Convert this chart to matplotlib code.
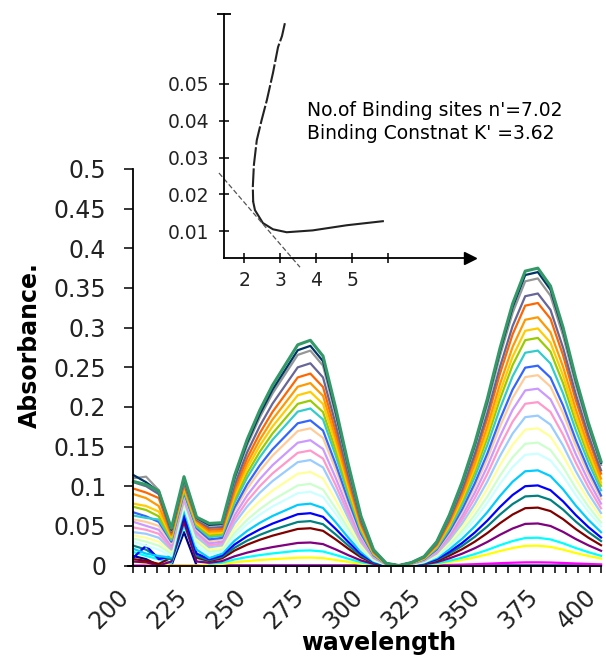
import numpy as np
import matplotlib
matplotlib.use("Agg")
import matplotlib.pyplot as plt
from matplotlib.ticker import MultipleLocator

# wavelengths of the recorded points (nm)
wavelength = [200.0, 205.4, 210.8, 216.2, 221.6, 227.0, 232.4, 237.8, 243.2, 248.6,
              254.0, 259.4, 264.8, 270.2, 275.6, 281.0, 286.4, 291.8, 297.2, 302.6,
              308.0, 313.4, 318.8, 324.2, 329.6, 335.0, 340.4, 345.8, 351.2, 356.6,
              362.0, 367.4, 372.8, 378.2, 383.6, 389.0, 394.4, 399.8]

# band profiles (normalised to 1 at the maximum)
band_275 = [0, 0, 0, 0, 0, 0, 0.12, 0.19, 0.40, 0.56,
            0.69, 0.80, 0.89, 0.98, 1.0, 0.93, 0.70, 0.45, 0.22, 0.07,
            0.01, 0, 0, 0, 0, 0, 0, 0, 0, 0,
            0, 0, 0, 0, 0, 0, 0, 0]
band_375 = [0, 0, 0, 0, 0, 0, 0, 0, 0, 0,
            0, 0, 0, 0, 0, 0, 0, 0, 0, 0,
            0, 0, 0.01, 0.03, 0.08, 0.17, 0.28, 0.41, 0.56, 0.73,
            0.88, 0.99, 1.0, 0.94, 0.80, 0.63, 0.48, 0.35]

# series colours (excel order) and peak heights
colors = ["#000080", "#FF00FF", "#FFFF00", "#00FFFF", "#800080", "#800000", "#008080",
          "#0000FF", "#00CCFF", "#CCFFFF", "#CCFFCC", "#FFFF99", "#99CCFF", "#FF99CC",
          "#CC99FF", "#FFCC99", "#3366FF", "#33CCCC", "#99CC00", "#FFCC00", "#FF9900",
          "#FF6600", "#666699", "#969696", "#003366", "#339966"]
peak_275 = [0.0, 0.0, 0.010, 0.019, 0.029, 0.047, 0.056, 0.066, 0.078, 0.093, 0.103,
            0.118, 0.133, 0.145, 0.158, 0.173, 0.183, 0.198, 0.208, 0.219, 0.230,
            0.242, 0.255, 0.271, 0.277, 0.284]
peak_375 = [0.0, 0.004, 0.025, 0.035, 0.053, 0.073, 0.088, 0.101, 0.120, 0.141, 0.155,
            0.173, 0.189, 0.206, 0.223, 0.240, 0.252, 0.271, 0.287, 0.299, 0.313,
            0.331, 0.343, 0.362, 0.370, 0.375]
# short wavelength part (200 - 232 nm), one row per series
short_wave = [
    [0.012, 0.008, 0.0, 0.0, 0.042, 0.0, 0.0],
    [0.0, 0.0, 0.0, 0.0, 0.0, 0.0, 0.0],
    [0.005, 0.003, 0.002, 0.0, 0.0, 0.0, 0.0],
    [0.017, 0.012, 0.008, 0.003, 0.050, 0.010, 0.0],
    [0.005, 0.004, 0.0, 0.005, 0.055, 0.005, 0.0],
    [0.008, 0.006, 0.002, 0.010, 0.060, 0.010, 0.0],
    [0.025, 0.020, 0.010, 0.008, 0.065, 0.012, 0.0],
    [0.010, 0.025, 0.008, 0.012, 0.063, 0.015, 0.0],
    [0.021, 0.015, 0.012, 0.010, 0.070, 0.020, 0.0],
    [0.030, 0.025, 0.020, 0.012, 0.075, 0.025, 0.003],
    [0.034, 0.030, 0.025, 0.015, 0.078, 0.030, 0.005],
    [0.038, 0.035, 0.030, 0.018, 0.080, 0.033, 0.006],
    [0.042, 0.040, 0.035, 0.020, 0.082, 0.036, 0.007],
    [0.048, 0.045, 0.040, 0.022, 0.085, 0.040, 0.008],
    [0.055, 0.050, 0.045, 0.025, 0.088, 0.042, 0.009],
    [0.058, 0.055, 0.050, 0.028, 0.090, 0.045, 0.010],
    [0.067, 0.062, 0.055, 0.030, 0.092, 0.047, 0.011],
    [0.063, 0.060, 0.058, 0.032, 0.094, 0.049, 0.012],
    [0.074, 0.070, 0.062, 0.034, 0.096, 0.051, 0.013],
    [0.078, 0.075, 0.068, 0.036, 0.098, 0.053, 0.014],
    [0.090, 0.085, 0.075, 0.038, 0.100, 0.055, 0.015],
    [0.097, 0.092, 0.085, 0.040, 0.103, 0.057, 0.016],
    [0.105, 0.100, 0.090, 0.042, 0.105, 0.058, 0.017],
    [0.110, 0.112, 0.095, 0.044, 0.108, 0.059, 0.018],
    [0.114, 0.105, 0.093, 0.045, 0.110, 0.060, 0.018],
    [0.106, 0.102, 0.094, 0.047, 0.112, 0.061, 0.019],
]

# inset (binding plot)
inset_x_dash = [3.13, 3.05, 2.94, 2.80, 2.63, 2.48, 2.35, 2.27, 2.24, 2.25]
inset_y_dash = [0.0665, 0.063, 0.060, 0.053, 0.0456, 0.040, 0.0347, 0.028, 0.022, 0.018]
inset_x = [2.25, 2.30, 2.52, 2.80, 3.18, 3.90, 4.85, 5.85]
inset_y = [0.018, 0.0157, 0.0122, 0.0105, 0.0097, 0.0102, 0.0116, 0.0127]
tangent_x = [1.30, 3.55]
tangent_y = [0.0258, 0.0002]
inset_text = "No.of Binding sites n'=7.02\nBinding Constnat K' =3.62"

W, H = 606, 657
fig = plt.figure(figsize=(W / 100, H / 100), dpi=100)

# main axes
ax = fig.add_axes([127.6 / W, 1 - 565.5 / H, (601.5 - 127.6) / W, (565.5 - 169) / H])
wl = np.array(wavelength)
for i, c in enumerate(colors):
    sw = np.zeros(len(wl))
    sw[:len(short_wave[i])] = short_wave[i]
    y = sw + peak_275[i] * np.array(band_275) + peak_375[i] * np.array(band_375)
    lw = 2.2 if i == len(colors) - 1 else 1.6
    ax.plot(wl, y, color=c, lw=lw, clip_on=False)

ax.set_xlim(197.5, 400)
ax.set_ylim(0, 0.5)
ax.spines["left"].set_position(("data", 200))
ax.spines["top"].set_visible(False)
ax.spines["right"].set_visible(False)
for s in ("left", "bottom"):
    ax.spines[s].set_linewidth(1.3)
ax.set_xticks(np.arange(200, 401, 25))
ax.xaxis.set_minor_locator(MultipleLocator(5))
ax.set_yticks(np.arange(0, 0.501, 0.05))
ax.set_yticklabels(["%g" % round(v, 2) for v in np.arange(0, 0.501, 0.05)])
ax.tick_params(axis="y", direction="out", length=6.5, width=1.1, pad=13,
               labelsize=17, labelcolor="#222222")
ax.tick_params(axis="x", which="both", direction="out", length=5, width=1.1)
ax.tick_params(axis="x", labelsize=17, labelcolor="#222222", pad=9)
plt.setp(ax.get_xticklabels(), rotation=45, ha="right", va="top")

fig.text(379 / W, 1 - 643 / H, "wavelength", fontsize=17, fontweight="bold",
         ha="center", va="center")
fig.text(30 / W, 1 - 345 / H, "Absorbance.", fontsize=17, fontweight="bold",
         ha="center", va="center", rotation=90)

# inset axes: x 1.44..8.27 -> px 224..470, y 0.0027..0.069 -> px 258..14
ins = fig.add_axes([224 / W, 1 - 258 / H, (470 - 224) / W, (258 - 14) / H])
ins.set_facecolor("none")
ins.set_xlim(1.44, 8.27)
ins.set_ylim(0.0027, 0.069)
ins.spines["top"].set_visible(False)
ins.spines["right"].set_visible(False)
for s in ("left", "bottom"):
    ins.spines[s].set_linewidth(1.3)
ins.plot(inset_x_dash, inset_y_dash, color="#222222", lw=1.5, dashes=(9, 1.2))
ins.plot(inset_x, inset_y, color="#222222", lw=1.5)
ins.plot(tangent_x, tangent_y, color="#555555", lw=0.9, dashes=(4, 2), clip_on=False)
ins.plot(1, 0, ">k", markersize=8, transform=ins.transAxes, clip_on=False)
ins.plot(0, 1, "_k", markersize=10, mew=1.3, transform=ins.transAxes, clip_on=False)
ins.set_xticks([2, 3, 4, 5, 6])
ins.set_xticklabels(["2", "3", "4", "5", ""])
ins.set_yticks([0.01, 0.02, 0.03, 0.04, 0.05])
ins.set_yticklabels(["0.01", "0.02", "0.03", "0.04", "0.05"])
ins.tick_params(direction="inout", length=7, width=1.1, labelsize=13.5, labelcolor="#222222")
ins.tick_params(axis="y", pad=7)
ins.tick_params(axis="x", pad=6)
ins.text(306.7 / W, 1 - 139.3 / H, inset_text, transform=fig.transFigure,
         fontsize=13.5, ha="left", va="baseline", linespacing=1.3)

fig.savefig("out.png", dpi=100)
